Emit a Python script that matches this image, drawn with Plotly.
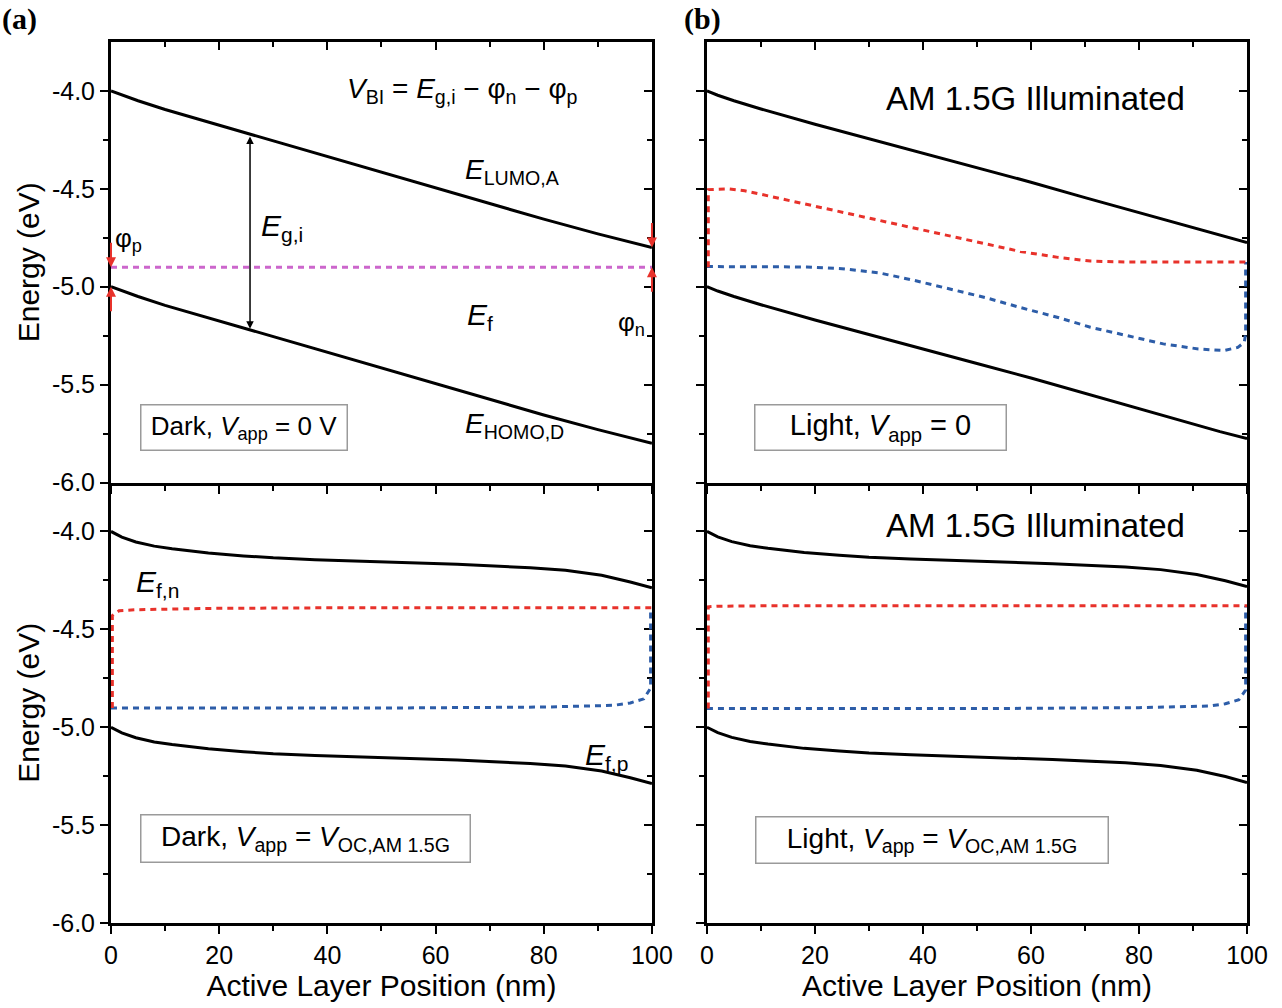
import plotly.graph_objects as go

# ---------------- data ----------------
x_ticks = [0, 20, 40, 60, 80, 100]
x_tick_labels = ["0", "20", "40", "60", "80", "100"]
x_minor = [10, 30, 50, 70, 90]
y_ticks = [-6.0, -5.5, -5.0, -4.5, -4.0]
y_tick_labels = ["-6.0", "-5.5", "-5.0", "-4.5", "-4.0"]
y_minor = [-5.75, -5.25, -4.75, -4.25]

# (a) top : dark, Vapp = 0
x_a_top = [0, 5, 10, 20, 30, 40, 50, 60, 70, 80, 90, 100]
lumo_a_top = [-4.0, -4.05, -4.095, -4.175, -4.255, -4.335, -4.415, -4.495, -4.575, -4.655, -4.73, -4.80]
homo_a_top = [-5.0, -5.05, -5.095, -5.175, -5.255, -5.335, -5.415, -5.495, -5.575, -5.655, -5.73, -5.80]
x_ef_a_top = [0, 100]
ef_a_top = [-4.9, -4.9]

# (b) top : light, Vapp = 0
x_b_top = [0, 2, 5, 10, 20, 30, 40, 50, 60, 70, 80, 90, 95, 100]
lumo_b_top = [-4.0, -4.022, -4.05, -4.092, -4.17, -4.245, -4.318, -4.392, -4.466, -4.545, -4.622, -4.70, -4.74, -4.775]
homo_b_top = [-5.0, -5.022, -5.05, -5.092, -5.17, -5.245, -5.318, -5.392, -5.466, -5.545, -5.622, -5.70, -5.74, -5.775]
x_efn_b_top = [0.25, 0.25, 4, 7, 12, 18.5, 25, 32, 38, 45, 51.5, 58, 65, 71, 78, 100]
efn_b_top = [-4.9, -4.504, -4.50, -4.51, -4.54, -4.58, -4.62, -4.66, -4.70, -4.74, -4.78, -4.82, -4.85, -4.869, -4.874, -4.874]
x_efp_b_top = [0, 18.5, 25, 32, 38, 45, 51.5, 58, 65, 71, 78, 84.5, 91, 95.7, 98.3, 99.5, 99.75, 99.75]
efp_b_top = [-4.897, -4.899, -4.908, -4.93, -4.965, -5.01, -5.055, -5.106, -5.157, -5.207, -5.253, -5.292, -5.318, -5.326, -5.31, -5.284, -5.24, -4.874]

# (a) bottom : dark, Vapp = Voc
x_bot = [0, 2, 4.6, 8, 11.3, 18, 24.5, 30, 37.7, 51, 64, 77.5, 84, 90.7, 96, 100]
lumo_a_bot = [-4.0, -4.029, -4.054, -4.075, -4.088, -4.11, -4.125, -4.135, -4.144, -4.156, -4.168, -4.185, -4.198, -4.224, -4.258, -4.288]
homo_a_bot = [-5.0, -5.029, -5.054, -5.075, -5.088, -5.11, -5.125, -5.135, -5.144, -5.156, -5.168, -5.185, -5.198, -5.224, -5.258, -5.288]
x_efn_a_bot = [0.25, 0.25, 1.5, 4.6, 18, 40, 100]
efn_a_bot = [-4.902, -4.43, -4.405, -4.40, -4.393, -4.39, -4.39]
x_efp_a_bot = [0, 50, 80, 93, 96, 98.5, 99.75, 99.75]
efp_a_bot = [-4.902, -4.902, -4.897, -4.888, -4.876, -4.855, -4.80, -4.39]

# (b) bottom : light, Vapp = Voc
lumo_b_bot = [-4.0, -4.028, -4.052, -4.073, -4.086, -4.108, -4.122, -4.132, -4.141, -4.153, -4.165, -4.182, -4.195, -4.22, -4.252, -4.282]
homo_b_bot = [-5.0, -5.028, -5.052, -5.073, -5.086, -5.108, -5.122, -5.132, -5.141, -5.153, -5.165, -5.182, -5.195, -5.22, -5.252, -5.282]
x_efn_b_bot = [0.25, 0.25, 2, 10, 40, 100]
efn_b_bot = [-4.905, -4.385, -4.382, -4.38, -4.38, -4.38]
x_efp_b_bot = [0, 50, 80, 93, 96, 98.5, 99.75, 99.75]
efp_b_bot = [-4.905, -4.905, -4.9, -4.892, -4.88, -4.86, -4.81, -4.38]

# ---------------- style ----------------
FONT = "Liberation Sans, Arial, sans-serif"
BLACK = "black"
RED = "#e8322b"
BLUE = "#2d5da8"
MAGENTA = "#cc66cc"
DASH = "6px,5px"

fig = go.Figure()

def band(x, y, xa, ya):
    fig.add_trace(go.Scatter(x=x, y=y, mode="lines", xaxis=xa, yaxis=ya,
                             line=dict(color=BLACK, width=3), showlegend=False, hoverinfo="skip"))

def dashed(x, y, color, xa, ya):
    fig.add_trace(go.Scatter(x=x, y=y, mode="lines", xaxis=xa, yaxis=ya,
                             line=dict(color=color, width=3, dash=DASH), showlegend=False, hoverinfo="skip"))

# top-left = x2/y2, top-right = x4/y4, bottom-left = x/y, bottom-right = x3/y3
band(x_a_top, lumo_a_top, "x2", "y2")
band(x_a_top, homo_a_top, "x2", "y2")
dashed(x_ef_a_top, ef_a_top, MAGENTA, "x2", "y2")

band(x_b_top, lumo_b_top, "x4", "y4")
band(x_b_top, homo_b_top, "x4", "y4")
dashed(x_efp_b_top, efp_b_top, BLUE, "x4", "y4")
dashed(x_efn_b_top, efn_b_top, RED, "x4", "y4")

band(x_bot, lumo_a_bot, "x", "y")
band(x_bot, homo_a_bot, "x", "y")
dashed(x_efp_a_bot, efp_a_bot, BLUE, "x", "y")
dashed(x_efn_a_bot, efn_a_bot, RED, "x", "y")

band(x_bot, lumo_b_bot, "x3", "y3")
band(x_bot, homo_b_bot, "x3", "y3")
dashed(x_efp_b_bot, efp_b_bot, BLUE, "x3", "y3")
dashed(x_efn_b_bot, efn_b_bot, RED, "x3", "y3")

XL = [0.0, 0.4762]
XR = [0.5246, 1.0]
YB = [0.0, 0.5]
YT = [0.5, 1.0]
tickfont = dict(family=FONT, size=25, color="black")
titlefont = dict(family=FONT, size=30, color="black")


def xaxis(domain, anchor, labels, title=None, side="bottom", overlaying=None, ticks="outside", line=True):
    d = dict(domain=domain, anchor=anchor, range=[0, 100], tickmode="array",
             tickvals=x_ticks, ticktext=x_tick_labels, ticks=ticks, ticklen=8, tickwidth=2,
             tickcolor="black",
             minor=dict(tickvals=x_minor, ticks=ticks, ticklen=5, tickwidth=2, tickcolor="black"),
             showline=line, linewidth=3, linecolor="black", showgrid=False, zeroline=False,
             showticklabels=labels, tickfont=tickfont, side=side, fixedrange=True,
             layer="below traces")
    if overlaying:
        d["overlaying"] = overlaying
    if title:
        d["title"] = dict(text=title, font=titlefont, standoff=6)
    return d


def yaxis(domain, anchor, labels, title=None, side="left", overlaying=None, ticks="outside"):
    d = dict(domain=domain, anchor=anchor, range=[-6.0, -3.75], tickmode="array",
             tickvals=y_ticks, ticktext=y_tick_labels, ticks=ticks, ticklen=8, tickwidth=2,
             tickcolor="black",
             minor=dict(tickvals=y_minor, ticks=ticks, ticklen=5, tickwidth=2, tickcolor="black"),
             showline=True, linewidth=3, linecolor="black", showgrid=False, zeroline=False,
             showticklabels=labels, tickfont=tickfont, side=side, fixedrange=True,
             layer="below traces")
    if overlaying:
        d["overlaying"] = overlaying
    if title:
        d["title"] = dict(text=title, font=titlefont, standoff=4)
    return d


XT = "Active Layer Position (nm)"
YTT = "Energy (eV)"
fig.update_layout(
    xaxis=xaxis(XL, "y", True, XT),
    yaxis=yaxis(YB, "x", True, YTT),
    xaxis2=xaxis(XL, "y2", False),
    yaxis2=yaxis(YT, "x2", True, YTT),
    xaxis3=xaxis(XR, "y3", True, XT),
    yaxis3=yaxis(YB, "x3", False),
    xaxis4=xaxis(XR, "y4", False),
    yaxis4=yaxis(YT, "x4", False),
    # mirrored axes with inward ticks (top / right)
    xaxis5=xaxis(XL, "y", False, side="top", overlaying="x", ticks="inside", line=False),
    yaxis5=yaxis(YB, "x", False, side="right", overlaying="y", ticks="inside"),
    xaxis6=xaxis(XL, "y2", False, side="top", overlaying="x2", ticks="inside"),
    yaxis6=yaxis(YT, "x2", False, side="right", overlaying="y2", ticks="inside"),
    xaxis7=xaxis(XR, "y3", False, side="top", overlaying="x3", ticks="inside", line=False),
    yaxis7=yaxis(YB, "x3", False, side="right", overlaying="y3", ticks="inside"),
    xaxis8=xaxis(XR, "y4", False, side="top", overlaying="x4", ticks="inside"),
    yaxis8=yaxis(YT, "x4", False, side="right", overlaying="y4", ticks="inside"),
)
for xa, ya in [("x5", "y"), ("x", "y5"), ("x6", "y2"), ("x2", "y6"),
               ("x7", "y3"), ("x3", "y7"), ("x8", "y4"), ("x4", "y8")]:
    fig.add_trace(go.Scatter(x=[None], y=[None], xaxis=xa, yaxis=ya, mode="lines",
                             showlegend=False, hoverinfo="skip"))

ann = []


def text(x, y, t, xr, yr, size=28, xanchor="center", yanchor="middle"):
    ann.append(dict(x=x, y=y, xref=xr, yref=yr, text=t, showarrow=False,
                    font=dict(family=FONT, size=size, color="black"),
                    xanchor=xanchor, yanchor=yanchor))


def box(x, y, t, xr, yr, w, h, size=26):
    ann.append(dict(x=x, y=y, xref=xr, yref=yr, text=t, showarrow=False,
                    font=dict(family=FONT, size=size, color="black"),
                    width=w, height=h, align="center", valign="middle",
                    bordercolor="#9a9a9a", borderwidth=1.5, borderpad=0, bgcolor="white",
                    xanchor="center", yanchor="middle"))


def arrow(x, y, ay, xr, yr):
    ann.append(dict(x=x, y=y, xref=xr, yref=yr, ax=0, ay=ay, text="", showarrow=True,
                    arrowhead=2, arrowsize=1, arrowwidth=2, arrowcolor=RED, standoff=0))

# top-left texts
text(65, -4.0, "<i>V</i><sub>BI</sub> = <i>E</i><sub>g,i</sub> \u2212 \u03c6<sub>n</sub> \u2212 \u03c6<sub>p</sub>", "x2", "y2", 28)
text(65, -4.41, "<i>E</i><sub>LUMO,A</sub>", "x2", "y2", 28, xanchor="left")
text(27.3, -4.70, "<i>E</i><sub>g,i</sub>", "x2", "y2", 30, xanchor="left")
text(0.3, -4.76, "\u03c6<sub>p</sub>", "x2", "y2", 26, xanchor="left")
text(65.5, -5.15, "<i>E</i><sub>f</sub>", "x2", "y2", 30, xanchor="left")
text(99.0, -5.19, "\u03c6<sub>n</sub>", "x2", "y2", 26, xanchor="right")
text(65, -5.71, "<i>E</i><sub>HOMO,D</sub>", "x2", "y2", 28, xanchor="left")
box(24.5, -5.72, "Dark, <i>V</i><sub>app</sub> = 0 V", "x2", "y2", 205, 44, 26)
# E_g,i double arrow
ann.append(dict(x=25.7, y=-5.215, ax=25.7, ay=-4.225, xref="x2", yref="y2", axref="x2", ayref="y2",
                text="", showarrow=True, arrowhead=2, arrowside="end+start", arrowsize=1,
                arrowwidth=1.5, arrowcolor="black", standoff=0, startstandoff=0))
# phi arrows
arrow(0, -4.9, -26, "x2", "y2")
arrow(0, -5.0, 26, "x2", "y2")
arrow(100, -4.8, -26, "x2", "y2")
arrow(100, -4.9, 26, "x2", "y2")

# top-right texts
text(60.9, -4.04, "AM 1.5G Illuminated", "x4", "y4", 33)
box(32.2, -5.72, "Light, <i>V</i><sub>app</sub> = 0", "x4", "y4", 250, 44, 29)

# bottom-left texts
text(4.3, -4.265, "<i>E</i><sub>f,n</sub>", "x", "y", 30, xanchor="left")
text(87.3, -5.15, "<i>E</i><sub>f,p</sub>", "x", "y", 30, xanchor="left")
box(35.9, -5.57, "Dark, <i>V</i><sub>app</sub> = <i>V</i><sub>OC,AM 1.5G</sub>", "x", "y", 328, 46, 28)

# bottom-right texts
text(60.9, -3.97, "AM 1.5G Illuminated", "x3", "y3", 33)
box(41.6, -5.575, "Light, <i>V</i><sub>app</sub> = <i>V</i><sub>OC,AM 1.5G</sub>", "x3", "y3", 351, 45, 28)

# panel letters
ann.append(dict(x=-0.098, y=1.026, xref="paper", yref="paper", text="<b>(a)</b>", showarrow=False,
                font=dict(family="Liberation Serif, Times New Roman, serif", size=30, color="black"),
                xanchor="left", yanchor="middle"))
ann.append(dict(x=0.5025, y=1.026, xref="paper", yref="paper", text="<b>(b)</b>", showarrow=False,
                font=dict(family="Liberation Serif, Times New Roman, serif", size=30, color="black"),
                xanchor="left", yanchor="middle"))

fig.update_layout(annotations=ann, width=1282, height=1008,
                  margin=dict(l=111, r=35, t=42, b=80, pad=0),
                  plot_bgcolor="white", paper_bgcolor="white", showlegend=False,
                  font=dict(family=FONT, color="black"))

fig.write_html("out.html", config={"displayModeBar": False})
